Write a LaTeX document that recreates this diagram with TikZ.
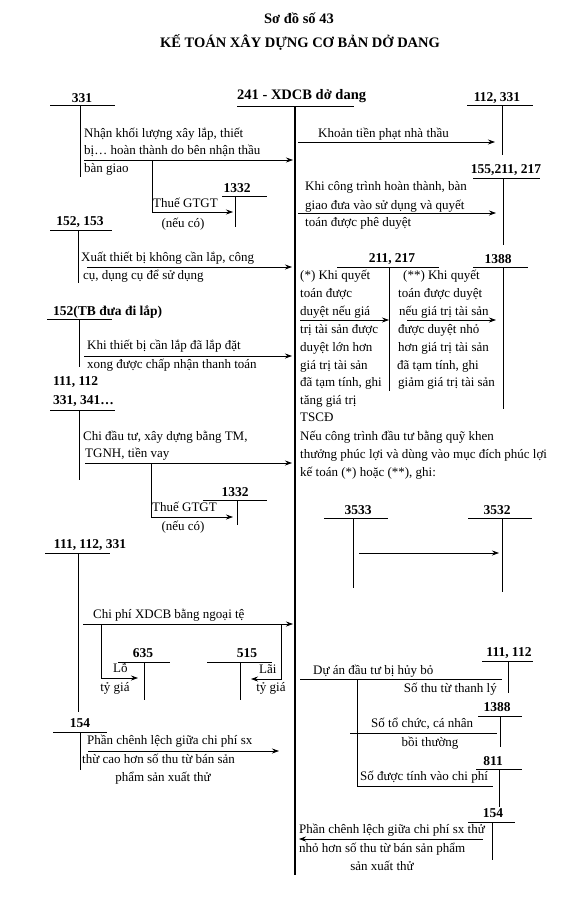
\documentclass[tikz,border=0pt]{standalone}
\usepackage{fontspec}
\setmainfont{Liberation Serif}
\usetikzlibrary{arrows.meta}
\begin{document}
\begin{tikzpicture}[x=1pt,y=-1pt,
  every node/.style={inner sep=0pt,font=\fontsize{13}{15}\selectfont},
  title/.style={font=\bfseries\fontsize{14.5}{17}\selectfont},
  acclbl/.style={font=\bfseries\fontsize{13.5}{15}\selectfont},
  mainlbl/.style={font=\bfseries\fontsize{14.5}{16}\selectfont},
  txt/.style={anchor=mid west},
  ctxt/.style={anchor=mid},
  rtxt/.style={anchor=mid east},
  acc/.style={line width=0.7pt},
  mainacc/.style={line width=1.7pt},
  arr/.style={line width=0.7pt,-{Stealth[length=7pt,width=5pt]}},
  ln/.style={line width=0.7pt}]
\useasboundingbox (0,0) rectangle (577,900);

% title
\node[title] (t1) at (299,18) {Sơ đồ số 43};
\node[title] (t2) at (300,42) {KẾ TOÁN XÂY DỰNG CƠ BẢN DỞ DANG};

% main account 241
\node[mainlbl,anchor=mid west] (m) at (237,97) {241 - XDCB dở dang};
\coordinate (mL) at (237,106); \coordinate (mR) at (354,106);
\coordinate (mT) at (295,106); \coordinate (mB) at (295,875);
\draw[acc] (mL) -- (mR);
\draw[mainacc] (mT) -- (mB);

% ---- 331
\node[acclbl] (a331) at (82,98) {331};
\coordinate (a331l) at (50,105); \coordinate (a331r) at (115,105);
\coordinate (a331t) at (80,105); \coordinate (a331b) at (80,177);
\draw[acc] (a331l) -- (a331r); \draw[acc] (a331t) -- (a331b);
\node[txt] (x1a) at (84,135) {Nhận khối lượng xây lắp, thiết};
\node[txt] (x1b) at (84,152) {bị… hoàn thành do bên nhận thầu};
\node[txt] (x1c) at (84,170) {bàn giao};
\coordinate (p1s) at (84,160); \coordinate (p1e) at (293,160);
\draw[arr] (p1s) -- (p1e);
% 1332 (first)
\node[acclbl] (a1332a) at (237,188) {1332};
\coordinate (b1l) at (222,196); \coordinate (b1r) at (267,196);
\coordinate (b1t) at (235,196); \coordinate (b1b) at (235,227);
\draw[acc] (b1l) -- (b1r); \draw[acc] (b1t) -- (b1b);
\coordinate (p2s) at (152,160); \coordinate (p2m) at (152,212); \coordinate (p2e) at (233,212);
\draw[arr] (p2s) -- (p2m) -- (p2e);
\node[txt] (x2a) at (153,205) {Thuế GTGT};
\node[ctxt] (x2b) at (183,225) {(nếu có)};

% ---- 112, 331
\node[acclbl] (a112) at (497,98) {112, 331};
\coordinate (c1l) at (467,105); \coordinate (c1r) at (533,105);
\coordinate (c1t) at (502,105); \coordinate (c1b) at (502,155);
\draw[acc] (c1l) -- (c1r); \draw[acc] (c1t) -- (c1b);
\node[txt] (x3) at (318,135) {Khoản tiền phạt nhà thầu};
\coordinate (p3s) at (298,142); \coordinate (p3e) at (495,142);
\draw[arr] (p3s) -- (p3e);

% ---- 155,211, 217
\node[acclbl] (a155) at (506,170) {155,211, 217};
\coordinate (c2l) at (473,178); \coordinate (c2r) at (540,178);
\coordinate (c2t) at (503,178); \coordinate (c2b) at (503,245);
\draw[acc] (c2l) -- (c2r); \draw[acc] (c2t) -- (c2b);
\node[txt] (x4a) at (305,188) {Khi công trình hoàn thành, bàn};
\node[txt] (x4b) at (305,207) {giao đưa vào sử dụng và quyết};
\node[txt] (x4c) at (305,224) {toán được phê duyệt};
\coordinate (p4s) at (298,213); \coordinate (p4e) at (496,213);
\draw[arr] (p4s) -- (p4e);

% ---- 152, 153
\node[acclbl] (a152) at (80,222) {152, 153};
\coordinate (d1l) at (50,230); \coordinate (d1r) at (112,230);
\coordinate (d1t) at (78,230); \coordinate (d1b) at (78,283);
\draw[acc] (d1l) -- (d1r); \draw[acc] (d1t) -- (d1b);
\node[txt] (x5a) at (81,259) {Xuất thiết bị không cần lắp, công};
\node[txt] (x5b) at (83,277) {cụ, dụng cụ để sử dụng};
\coordinate (p5s) at (87,267); \coordinate (p5e) at (292,267);
\draw[arr] (p5s) -- (p5e);

% ---- 152(TB đưa đi lắp)
\node[acclbl,anchor=mid west] (a152tb) at (53,313) {152(TB đưa đi lắp)};
\coordinate (d2l) at (47,319); \coordinate (d2r) at (112,319);
\coordinate (d2t) at (79,319); \coordinate (d2b) at (79,367);
\draw[acc] (d2l) -- (d2r); \draw[acc] (d2t) -- (d2b);
\node[txt] (x6a) at (87,347) {Khi thiết bị cần lắp đã lắp đặt};
\node[txt] (x6b) at (87,366) {xong được chấp nhận thanh toán};
\coordinate (p6s) at (84,356); \coordinate (p6e) at (292,356);
\draw[arr] (p6s) -- (p6e);

% ---- 211, 217 and 1388
\node[acclbl] (a211) at (392,259) {211, 217};
\coordinate (e1l) at (337,267); \coordinate (e1r) at (439,267);
\coordinate (e1t) at (389,267); \coordinate (e1b) at (389,391);
\draw[acc] (e1l) -- (e1r); \draw[acc] (e1t) -- (e1b);
\node[acclbl] (a1388a) at (498,259) {1388};
\coordinate (e2l) at (473,267); \coordinate (e2r) at (528,267);
\coordinate (e2t) at (503,267); \coordinate (e2b) at (503,409);
\draw[acc] (e2l) -- (e2r); \draw[acc] (e2t) -- (e2b);
\node[txt] (s1) at (300,277) {(*) Khi quyết};
\node[txt] (s2) at (300,295) {toán được};
\node[txt] (s3) at (300,313) {duyệt nếu giá};
\node[txt] (s4) at (300,331) {trị tài sản được};
\node[txt] (s5) at (300,349) {duyệt lớn hơn};
\node[txt] (s6) at (300,367) {giá trị tài sản};
\node[txt] (s7) at (300,384) {đã tạm tính, ghi};
\node[txt] (s8) at (300,402) {tăng giá trị};
\node[txt] (s9) at (300,419) {TSCĐ};
\coordinate (p7s) at (300,320); \coordinate (p7e) at (389,320);
\draw[arr] (p7s) -- (p7e);
\node[txt] (u1) at (403,277) {(**) Khi quyết};
\node[txt] (u2) at (398,295) {toán được duyệt};
\node[txt] (u3) at (399,313) {nếu giá trị tài sản};
\node[txt] (u4) at (398,331) {được duyệt nhỏ};
\node[txt] (u5) at (398,349) {hơn giá trị tài sản};
\node[txt] (u6) at (397,367) {đã tạm tính, ghi};
\node[txt] (u7) at (398,384) {giảm giá trị tài sản};
\coordinate (p8s) at (407,320); \coordinate (p8e) at (496,320);
\draw[arr] (p8s) -- (p8e);

% ---- fund text
\node[txt] (f1) at (300,438) {Nếu công trình đầu tư bằng quỹ khen};
\node[txt] (f2) at (300,456) {thưởng phúc lợi và dùng vào mục đích phúc lợi};
\node[txt] (f3) at (300,474) {kế toán (*) hoặc (**), ghi:};

% ---- 111, 112 / 331, 341...
\node[acclbl,anchor=mid west] (a111a) at (53,383) {111, 112};
\node[acclbl,anchor=mid west] (a331b) at (53,402) {331, 341…};
\coordinate (g1l) at (50,410); \coordinate (g1r) at (115,410);
\coordinate (g1t) at (79,410); \coordinate (g1b) at (79,480);
\draw[acc] (g1l) -- (g1r); \draw[acc] (g1t) -- (g1b);
\node[txt] (x7a) at (83,438) {Chi đầu tư, xây dựng bằng TM,};
\node[txt] (x7b) at (85,455) {TGNH, tiền vay};
\coordinate (p9s) at (85,463); \coordinate (p9e) at (292,463);
\draw[arr] (p9s) -- (p9e);
\node[acclbl] (a1332b) at (235,492) {1332};
\coordinate (g2l) at (203,500); \coordinate (g2r) at (267,500);
\coordinate (g2t) at (237,500); \coordinate (g2b) at (237,525);
\draw[acc] (g2l) -- (g2r); \draw[acc] (g2t) -- (g2b);
\coordinate (p10s) at (151,463); \coordinate (p10m) at (151,517); \coordinate (p10e) at (233,517);
\draw[arr] (p10s) -- (p10m) -- (p10e);
\node[txt] (x8a) at (152,509) {Thuế GTGT};
\node[ctxt] (x8b) at (183,528) {(nếu có)};

% ---- 3533 -> 3532
\node[acclbl] (a3533) at (358,510) {3533};
\coordinate (h1l) at (324,518); \coordinate (h1r) at (388,518);
\coordinate (h1t) at (353,518); \coordinate (h1b) at (353,588);
\draw[acc] (h1l) -- (h1r); \draw[acc] (h1t) -- (h1b);
\node[acclbl] (a3532) at (497,510) {3532};
\coordinate (h2l) at (468,518); \coordinate (h2r) at (532,518);
\coordinate (h2t) at (502,518); \coordinate (h2b) at (502,592);
\draw[acc] (h2l) -- (h2r); \draw[acc] (h2t) -- (h2b);
\coordinate (p11s) at (359,553); \coordinate (p11e) at (499,553);
\draw[arr] (p11s) -- (p11e);

% ---- 111, 112, 331
\node[acclbl] (a111b) at (90,545) {111, 112, 331};
\coordinate (k1l) at (45,553); \coordinate (k1r) at (110,553);
\coordinate (k1t) at (78,553); \coordinate (k1b) at (78,712);
\draw[acc] (k1l) -- (k1r); \draw[acc] (k1t) -- (k1b);
\node[txt] (x9) at (93,616) {Chi phí XDCB bằng ngoại tệ};
\coordinate (p12s) at (83,624); \coordinate (p12e) at (293,624);
\draw[arr] (p12s) -- (p12e);
\node[acclbl] (a635) at (143,653) {635};
\coordinate (k2l) at (118,662); \coordinate (k2r) at (170,662);
\coordinate (k2t) at (144,662); \coordinate (k2b) at (144,700);
\draw[acc] (k2l) -- (k2r); \draw[acc] (k2t) -- (k2b);
\node[acclbl] (a515) at (247,653) {515};
\coordinate (k3l) at (207,662); \coordinate (k3r) at (272,662);
\coordinate (k3t) at (240,662); \coordinate (k3b) at (240,700);
\draw[acc] (k3l) -- (k3r); \draw[acc] (k3t) -- (k3b);
\coordinate (p13s) at (101,624); \coordinate (p13m) at (101,678); \coordinate (p13e) at (138,678);
\draw[arr] (p13s) -- (p13m) -- (p13e);
\node[txt] (x10a) at (113,670) {Lỗ};
\node[ctxt] (x10b) at (115,689) {tỷ giá};
\coordinate (p14s) at (281,624); \coordinate (p14m) at (281,679); \coordinate (p14e) at (251,679);
\draw[arr] (p14s) -- (p14m) -- (p14e);
\node[txt] (x11a) at (259,671) {Lãi};
\node[ctxt] (x11b) at (271,689) {tỷ giá};

% ---- 154 left
\node[acclbl] (a154a) at (80,723) {154};
\coordinate (n1l) at (53,732); \coordinate (n1r) at (107,732);
\coordinate (n1t) at (80,732); \coordinate (n1b) at (80,770);
\draw[acc] (n1l) -- (n1r); \draw[acc] (n1t) -- (n1b);
\node[txt] (x12a) at (87,742) {Phần chênh lệch giữa chi phí sx};
\node[txt] (x12b) at (82,761) {thừ cao hơn số thu từ bán sản};
\node[ctxt] (x12c) at (163,779) {phẩm sản xuất thử};
\coordinate (p15s) at (88,751); \coordinate (p15e) at (279,751);
\draw[arr] (p15s) -- (p15e);

% ---- right bottom: Dự án đầu tư bị hủy bỏ
\node[acclbl] (a111c) at (509,653) {111, 112};
\coordinate (q1l) at (482,661); \coordinate (q1r) at (533,661);
\coordinate (q1t) at (508,661); \coordinate (q1b) at (508,693);
\draw[acc] (q1l) -- (q1r); \draw[acc] (q1t) -- (q1b);
\node[txt] (x13) at (313,672) {Dự án đầu tư bị hủy bỏ};
\coordinate (p16s) at (300,679); \coordinate (p16e) at (502,679);
\draw[ln] (p16s) -- (p16e);
\node[rtxt] (x14) at (497,690) {Số thu từ thanh lý};
\node[acclbl] (a1388b) at (497,707) {1388};
\coordinate (q2l) at (478,716); \coordinate (q2r) at (522,716);
\coordinate (q2t) at (500,716); \coordinate (q2b) at (500,747);
\draw[acc] (q2l) -- (q2r); \draw[acc] (q2t) -- (q2b);
\node[txt] (x15a) at (371,725) {Số tổ chức, cá nhân};
\node[ctxt] (x15b) at (430,744) {bồi thường};
\coordinate (p17s) at (350,733); \coordinate (p17e) at (497,733);
\draw[ln] (p17s) -- (p17e);
\node[acclbl] (a811) at (493,761) {811};
\coordinate (q3l) at (476,769); \coordinate (q3r) at (522,769);
\coordinate (q3t) at (499,769); \coordinate (q3b) at (499,807);
\draw[acc] (q3l) -- (q3r); \draw[acc] (q3t) -- (q3b);
\node[txt] (x16) at (360,778) {Số được tính vào chi phí};
\coordinate (p18s) at (357,679); \coordinate (p18m) at (357,786); \coordinate (p18e) at (493,786);
\draw[ln] (p18s) -- (p18m) -- (p18e);

% ---- 154 right
\node[acclbl] (a154b) at (493,813) {154};
\coordinate (r1l) at (468,822); \coordinate (r1r) at (515,822);
\coordinate (r1t) at (492,822); \coordinate (r1b) at (492,860);
\draw[acc] (r1l) -- (r1r); \draw[acc] (r1t) -- (r1b);
\node[txt] (x17a) at (299,831) {Phần chênh lệch giữa chi phí sx thử};
\node[txt] (x17b) at (299,850) {nhỏ hơn số thu từ bán sản phẩm};
\node[ctxt] (x17c) at (382,868) {sản xuất thử};
\coordinate (p19s) at (483,839); \coordinate (p19e) at (299,839);
\draw[arr] (p19s) -- (p19e);
\end{tikzpicture}
\end{document}
